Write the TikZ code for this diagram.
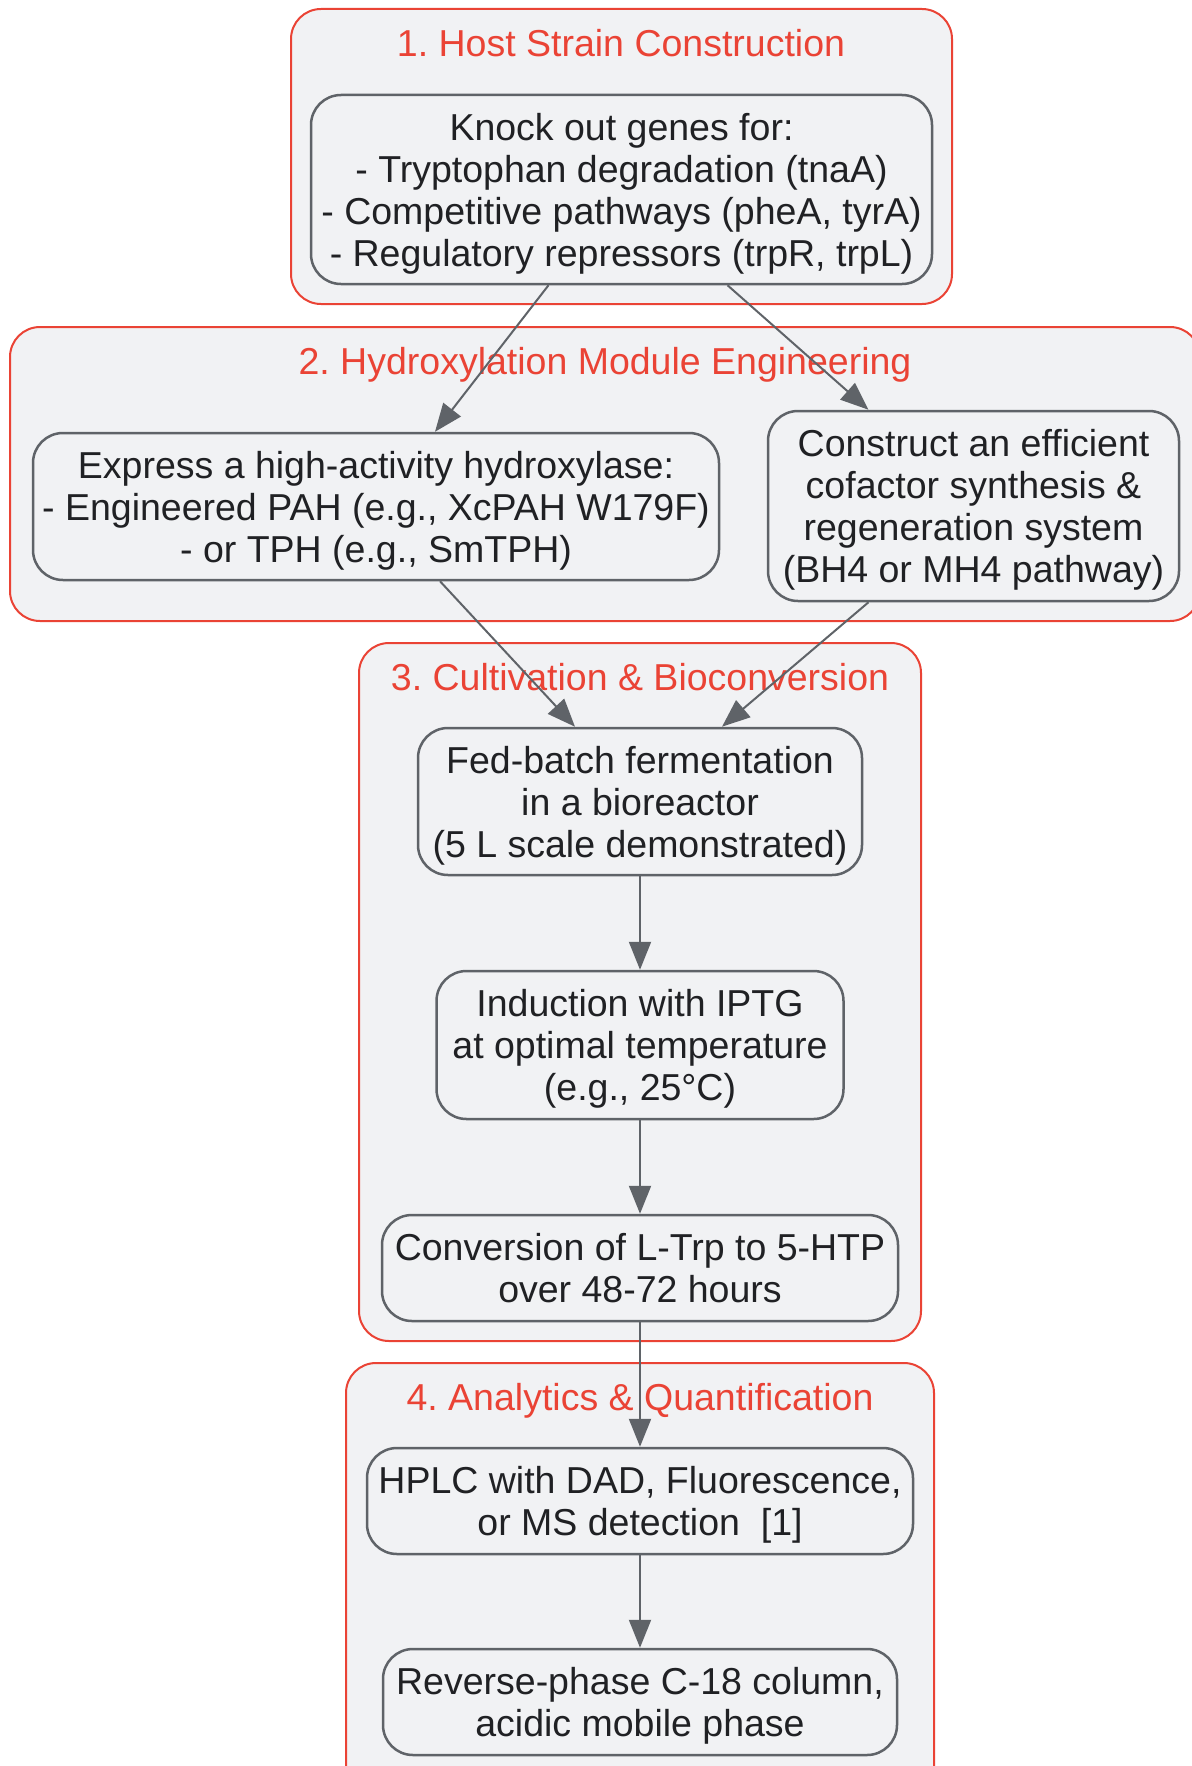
\documentclass[tikz,border=0pt]{standalone}
\usepackage{fontspec}
\setmainfont{Liberation Sans}
\usetikzlibrary{arrows.meta}
\definecolor{boxfill}{HTML}{F1F2F4}
\definecolor{boxline}{HTML}{5F6368}
\definecolor{grpred}{HTML}{EA4335}
\definecolor{txt}{HTML}{202124}
\frenchspacing
\begin{document}
\begin{tikzpicture}[x=1pt,y=-1pt,
    group/.style={draw=grpred, fill=boxfill, line width=2pt, rounded corners=30pt},
    grouptitle/.style={text=grpred, font=\fontsize{37.5}{42}\selectfont, inner sep=0pt, text depth=0pt},
    stepbox/.style={draw=boxline, fill=boxfill, line width=2.5pt, rounded corners=30pt,
      text=txt, align=center, inner sep=0pt, text depth=-4pt, font=\fontsize{37.5}{42}\selectfont},
    flow/.style={draw=boxline, line width=2pt, -{Triangle[length=28pt,width=22pt]}}]
    \useasboundingbox (0,0) rectangle (1191,1766);
    % groups
    \draw[group] (291,9) rectangle (952,304);
    \draw[group] (10,327) rectangle (1200,621);
    \draw[group] (359,643) rectangle (921,1341);
    \draw[group] (346,1363) rectangle (934,1800);
    \node[grouptitle] (t1) at (621,43) {1. Host Strain Construction};
    \node[grouptitle] (t2) at (605,361) {2. Hydroxylation Module Engineering};
    \node[grouptitle] (t3) at (640,677) {3. Cultivation \& Bioconversion};
    \node[grouptitle] (t4) at (640,1397) {4. Analytics \& Quantification};
    % steps
    \node[stepbox, minimum width=621pt, minimum height=189pt] (knockout) at (621.5,189.5)
      {Knock out genes for:\\- Tryptophan degradation (tnaA)\\- Competitive pathways (pheA, tyrA)\\- Regulatory repressors (trpR, trpL)};
    \node[stepbox, minimum width=686pt, minimum height=147pt] (hydrox) at (376,506.5)
      {Express a high-activity hydroxylase:\\- Engineered PAH (e.g., XcPAH W179F)\\- or TPH (e.g., SmTPH)};
    \node[stepbox, minimum width=411pt, minimum height=190pt] (cofactor) at (973.5,506)
      {Construct an efficient\\cofactor synthesis \&\\regeneration system\\(BH4 or MH4 pathway)};
    \node[stepbox, minimum width=444pt, minimum height=147pt] (fedbatch) at (640,801.5)
      {Fed-batch fermentation\\in a bioreactor\\(5 L scale demonstrated)};
    \node[stepbox, minimum width=407pt, minimum height=148pt] (induce) at (640,1045)
      {Induction with IPTG\\at optimal temperature\\(e.g., 25°C)};
    \node[stepbox, minimum width=516pt, minimum height=106pt] (convert) at (640,1268)
      {Conversion of L-Trp to 5-HTP\\over 48-72 hours};
    \node[stepbox, minimum width=546pt, minimum height=106pt] (hplc) at (640,1501)
      {HPLC with DAD, Fluorescence,\\or MS detection\ \ [1]};
    \node[stepbox, minimum width=514pt, minimum height=106pt] (column) at (640,1702)
      {Reverse-phase C-18 column,\\acidic mobile phase};
    % connectors
    \draw[flow] ([xshift=-73pt]knockout.south) -- ([xshift=59pt]hydrox.north);
    \draw[flow] ([xshift=106pt]knockout.south) -- ([xshift=-105pt]cofactor.north);
    \draw[flow] ([xshift=64pt]hydrox.south) -- ([xshift=-65pt]fedbatch.north);
    \draw[flow] ([xshift=-105pt]cofactor.south) -- ([xshift=82pt]fedbatch.north);
    \draw[flow] (fedbatch) -- (induce);
    \draw[flow] (induce) -- (convert);
    \draw[flow] (convert) -- (hplc);
    \draw[flow] (hplc) -- (column);
\end{tikzpicture}
\end{document}
